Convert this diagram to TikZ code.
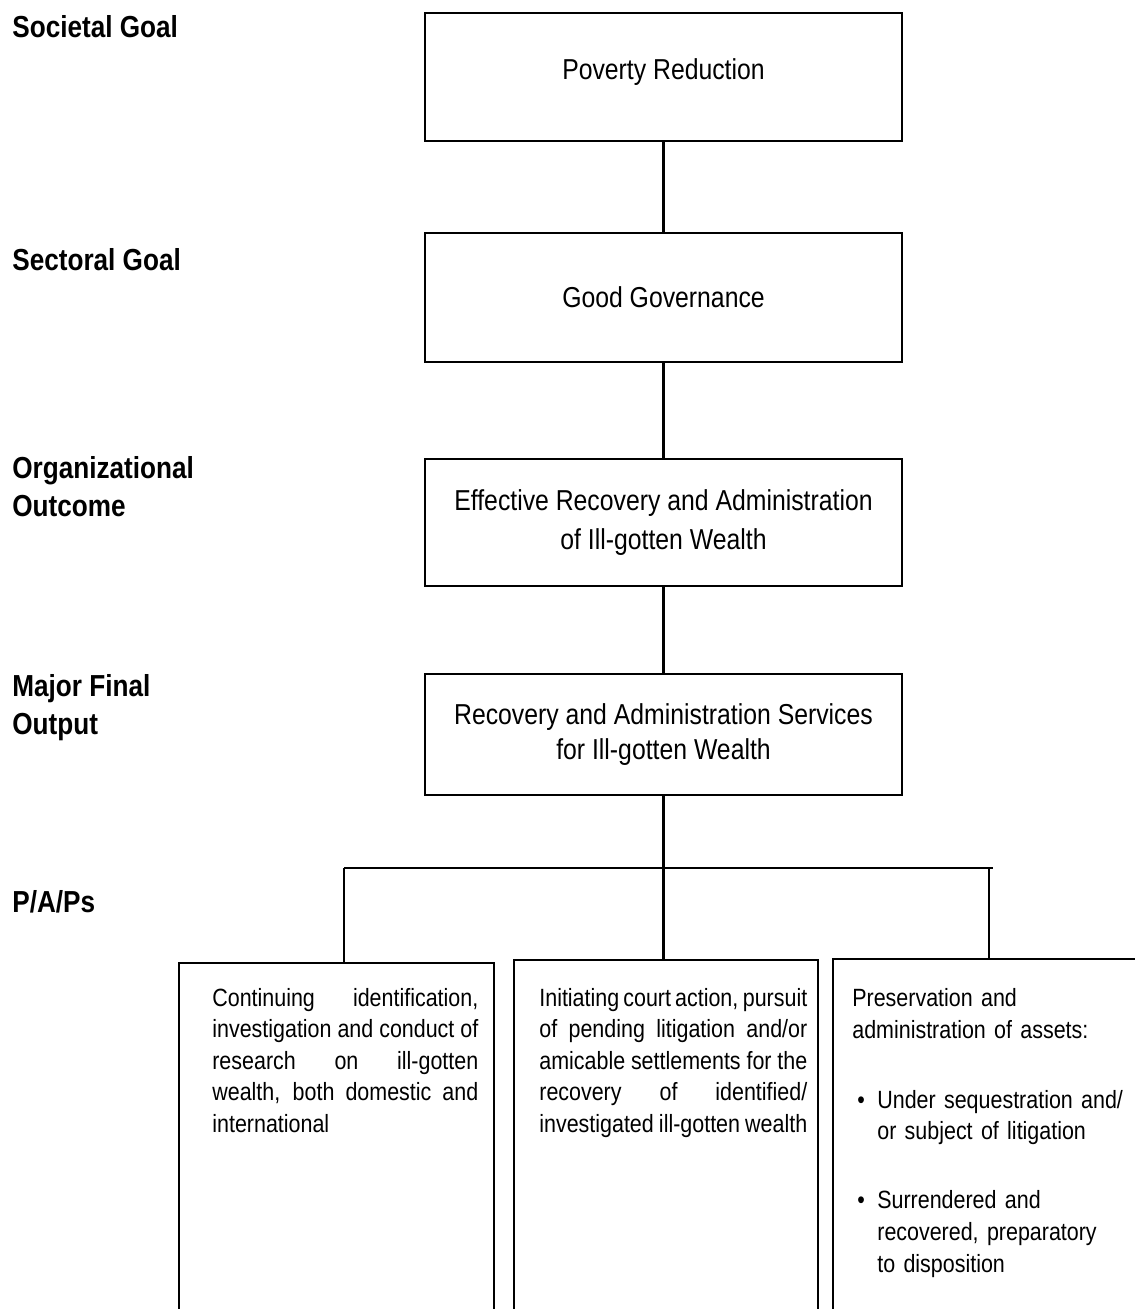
\documentclass[tikz,border=0pt]{standalone}
\usepackage{fontspec}
\setmainfont[FakeStretch=0.86]{Liberation Sans}

\begin{document}
\begin{tikzpicture}[x=0.02cm,y=-0.02cm,
        goalbox/.style={draw, line width=1.3pt, minimum width=9.54cm, inner sep=0pt, align=center, font=\fontsize{16.4}{21}\selectfont},
        levellabel/.style={anchor=north west, inner sep=0pt, align=left, font=\bfseries\fontsize{17.3}{21.8}\selectfont},
        ppaframe/.style={anchor=north west, inner sep=0pt},
        ppatext/.style={anchor=north west, inner sep=0pt, font=\fontsize{14.2}{17.9}\selectfont},
        link/.style={line width=1.3pt}]
        \useasboundingbox (0,0) rectangle (1135,1309);

        % level labels
        \node[levellabel] (lsoc) at (12,15) {Societal Goal};
        \node[levellabel] (lsec) at (12,248) {Sectoral Goal};
        \node[levellabel] (lorg) at (12,456) {Organizational\\Outcome};
        \node[levellabel] (lmfo) at (12,674) {Major Final\\Output};
        \node[levellabel] (lppa) at (12,890) {P/A/Ps};

        % goal boxes
        \node[goalbox, minimum height=2.56cm, text depth=0.3cm] (pov) at (663.5,77) {Poverty Reduction};
        \node[goalbox, minimum height=2.58cm] (gov) at (663.5,297.5) {Good Governance};
        \node[goalbox, minimum height=2.54cm, font=\fontsize{16.4}{22.1}\selectfont] (ooc) at (663.5,522.5) {Effective Recovery and Administration\\of Ill-gotten Wealth};
        \node[goalbox, minimum height=2.42cm, font=\fontsize{16.4}{19.8}\selectfont] (mfo) at (663.5,734.5) {Recovery and Administration Services\\for Ill-gotten Wealth};
        \draw[link] (pov) -- (gov);
        \draw[link] (gov) -- (ooc);
        \draw[link] (ooc) -- (mfo);

        % P/A/P frames, open at the bottom
        \node[ppaframe, minimum width=6.28cm, minimum height=6.92cm] (ppaA) at (179,963) {};
        \node[ppaframe, minimum width=6.06cm, minimum height=6.98cm] (ppaB) at (514,960) {};
        \node[ppaframe, minimum width=6.04cm, minimum height=7cm] (ppaC) at (833,959) {};
        \draw[link] (ppaA.south west) |- (ppaA.north east) -- (ppaA.south east);
        \draw[link] (ppaB.south west) |- (ppaB.north east) -- (ppaB.south east);
        \draw[link] (ppaC.south west) |- (ppaC.north east);

        % bus
        \coordinate (busL) at (344,868);
        \coordinate (busR) at (993,868);
        \coordinate (dropR) at (989,868);
        \draw[link] (busL) -- (busR);
        \draw[link] (mfo.south) -- (mfo.south |- ppaB.north);
        \draw[link] (busL) -- (busL |- ppaA.north);
        \draw[link] (dropR) -- (dropR |- ppaC.north);

        % P/A/P texts
        \node[ppatext, text width=5.32cm, align=justify] (txtA) at (212,988)
            {Continuing identification,\linebreak investigation and conduct of\linebreak research on ill-gotten\linebreak wealth, both domestic and\linebreak international};
        \node[ppatext, text width=5.36cm, align=justify] (txtB) at (539,988)
            {Initiating court action, pursuit\linebreak of pending litigation and/or\linebreak amicable settlements for the\linebreak recovery of identified/\linebreak investigated ill-gotten wealth};
        \node[ppatext, text width=5.6cm, align=left, font=\fontsize{14.2}{18.1}\selectfont] (txtC) at (852,988)
            {Preservation and\\
             administration of assets:\\[0.76cm]
             \makebox[0.5cm][l]{\hspace{0.1cm}\textbullet}Under sequestration and/\\
             \hspace*{0.5cm}or subject of litigation\\[0.74cm]
             \makebox[0.5cm][l]{\hspace{0.1cm}\textbullet}Surrendered and\\
             \hspace*{0.5cm}recovered, preparatory\\
             \hspace*{0.5cm}to disposition};
\end{tikzpicture}
\end{document}
